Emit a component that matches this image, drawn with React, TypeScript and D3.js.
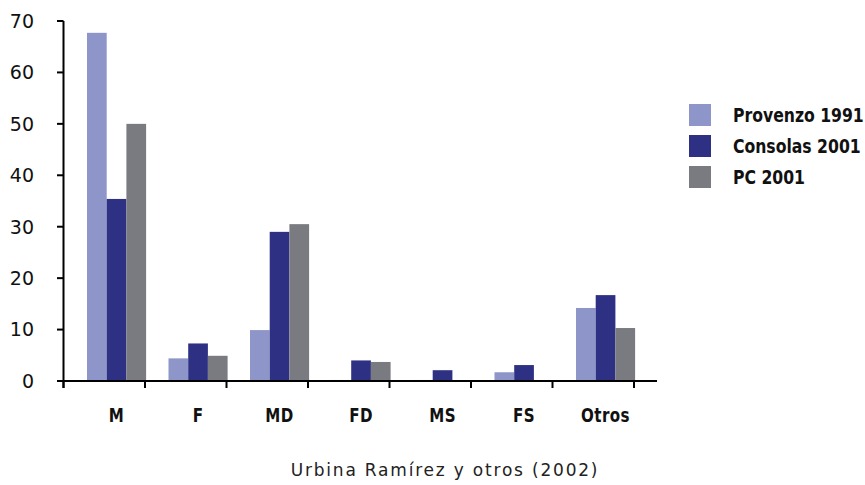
import React, { useEffect, useRef } from 'react';
import * as d3 from 'd3';

const categories = ['M', 'F', 'MD', 'FD', 'MS', 'FS', 'Otros'];
const seriesNames = ['Provenzo 1991', 'Consolas 2001', 'PC 2001'];
const provenzo1991 = [67.7, 4.4, 9.9, 0.2, 0.2, 1.7, 14.2];
const consolas2001 = [35.4, 7.3, 29, 4.0, 2.1, 3.1, 16.7];
const pc2001 = [50, 4.9, 30.5, 3.7, 0.1, 0.1, 10.3];
const yTicks = [0, 10, 20, 30, 40, 50, 60, 70];
const colors = ['#8E95C8', '#2E3183', '#7A7B80'];
const caption = 'Urbina Ramírez y otros (2002)';

const W = 865;
const H = 485;

export default function App() {
    const ref = useRef<SVGSVGElement>(null);

    useEffect(() => {
        const svg = d3.select(ref.current);
        svg.selectAll('*').remove();

        const series = [provenzo1991, consolas2001, pc2001];
        const x = d3.scaleBand().domain(categories).range([63.5, 634]).padding(0);
        const y = d3.scaleLinear().domain([0, 70]).range([381, 21]);
        const barW = 19.7;
        const offset = 23.5;

        const g = svg.append('g');

        categories.forEach((c, ci) => {
            series.forEach((s, si) => {
                const v = s[ci];
                g.append('rect')
                    .attr('x', (x(c) as number) + offset + si * barW)
                    .attr('y', y(v))
                    .attr('width', barW)
                    .attr('height', y(0) - y(v))
                    .attr('fill', colors[si]);
            });
            g.append('g')
                .attr('transform', `translate(${(x(c) as number) + offset + 1.5 * barW},422) scale(0.84,1)`)
                .append('text')
                .attr('text-anchor', 'middle')
                .attr('font-family', 'DejaVu Sans Condensed, DejaVu Sans')
                .attr('font-weight', 'bold')
                .attr('font-size', 20)
                .attr('letter-spacing', 0.5)
                .attr('fill', '#111')
                .text(c);
        });

        // y axis
        g.append('line')
            .attr('x1', 63.5).attr('x2', 63.5)
            .attr('y1', y(70)).attr('y2', 388)
            .attr('stroke', '#000').attr('stroke-width', 2);
        yTicks.forEach(t => {
            g.append('line')
                .attr('x1', 57).attr('x2', 63.5)
                .attr('y1', y(t)).attr('y2', y(t))
                .attr('stroke', '#000').attr('stroke-width', 2);
            g.append('text')
                .attr('x', 34)
                .attr('y', y(t))
                .attr('dy', '0.36em')
                .attr('text-anchor', 'end')
                .attr('font-family', 'DejaVu Sans')
                .attr('font-size', 19)
                .attr('fill', '#111')
                .text(t);
        });

        // x axis
        g.append('line')
            .attr('x1', 57).attr('x2', 657)
            .attr('y1', y(0)).attr('y2', y(0))
            .attr('stroke', '#000').attr('stroke-width', 2);
        const tickXs = categories.map(c => x(c) as number).concat([634]);
        tickXs.forEach(tx => {
            g.append('line')
                .attr('x1', tx).attr('x2', tx)
                .attr('y1', y(0)).attr('y2', 388)
                .attr('stroke', '#000').attr('stroke-width', 2);
        });

        // legend
        seriesNames.forEach((name, i) => {
            const ly = 104 + i * 31;
            g.append('rect')
                .attr('x', 689).attr('y', ly)
                .attr('width', 22).attr('height', 22)
                .attr('fill', colors[i]);
            g.append('g')
                .attr('transform', `translate(733,${ly + 18}) scale(0.87,1)`)
                .append('text')
                .attr('font-family', 'DejaVu Sans Condensed, DejaVu Sans')
                .attr('font-weight', 'bold')
                .attr('font-size', 20)
                .attr('fill', '#111')
                .text(name);
        });

        g.append('text')
            .attr('x', 445)
            .attr('y', 476)
            .attr('text-anchor', 'middle')
            .attr('font-family', 'DejaVu Sans')
            .attr('font-size', 17)
            .attr('letter-spacing', 1.8)
            .attr('fill', '#222')
            .text(caption);
    }, []);

    return (
        <div style={{ position: 'absolute', left: 0, top: 0 }}>
            <svg ref={ref} width={W} height={H} style={{ display: 'block' }} />
        </div>
    );
}
